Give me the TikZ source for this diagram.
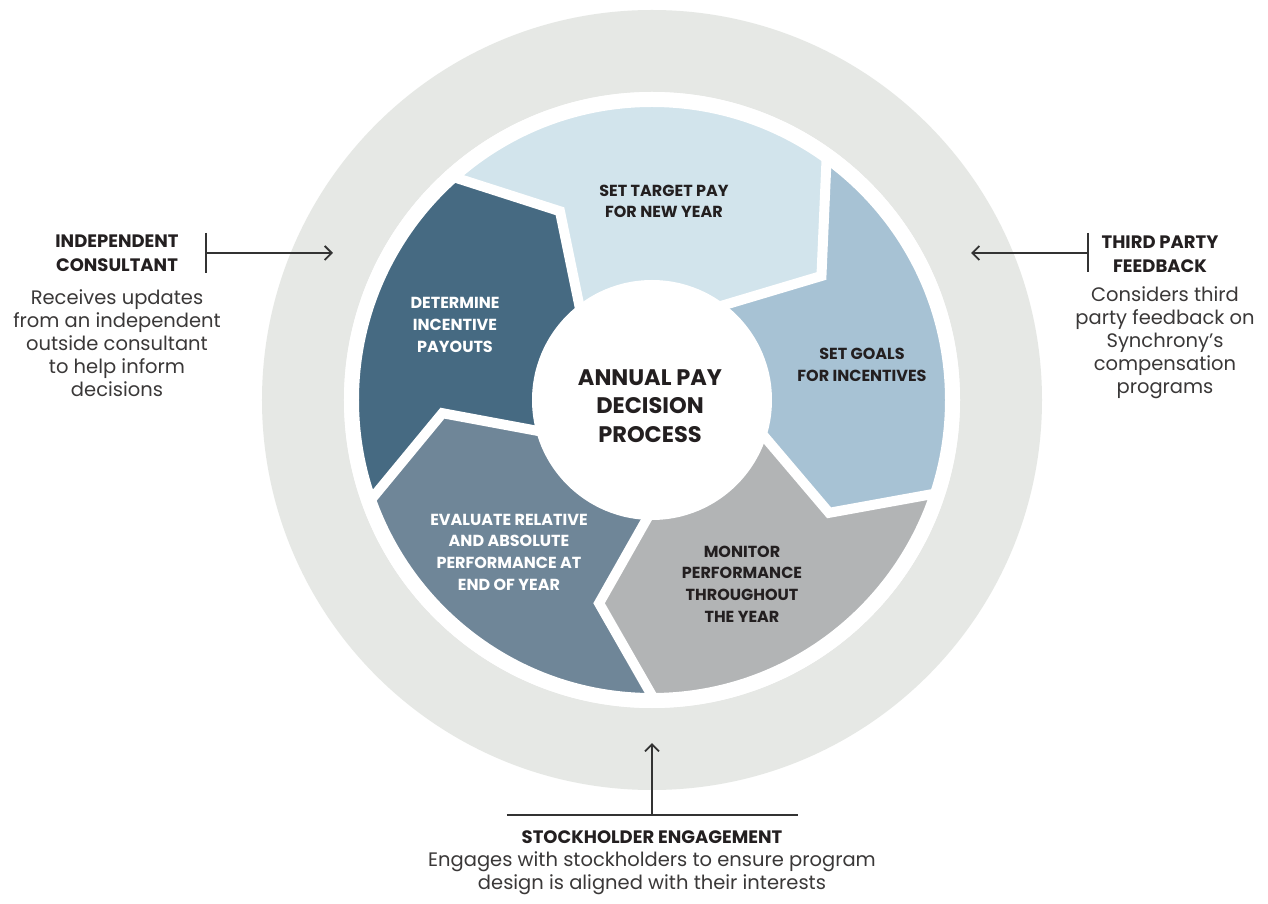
\documentclass[tikz,border=0pt]{standalone}
\usepackage{fontspec}
\setmainfont{Poppins}
\usetikzlibrary{arrows.meta}
\definecolor{ringgray}{HTML}{E6E8E5}
\definecolor{cTarget}{HTML}{D2E4EC}
\definecolor{cGoals}{HTML}{A7C2D4}
\definecolor{cMonitor}{HTML}{B2B4B5}
\definecolor{cEval}{HTML}{6F8698}
\definecolor{cDeterm}{HTML}{466A82}
\definecolor{inkdark}{HTML}{231F20}
\definecolor{inkbody}{HTML}{3A3838}
\definecolor{linegray}{HTML}{333333}
\tikzset{
  gapline/.style={draw=white, line width=10pt, line join=miter},
  seglabel/.style={align=center, font=\bfseries\fontsize{16}{21.7}\selectfont, inner sep=0pt},
  centerlabel/.style={align=center, font=\bfseries\fontsize{22.5}{28.5}\selectfont, text=inkdark, inner sep=0pt},
  headlabel/.style={align=center, font=\bfseries\fontsize{18}{23.5}\selectfont, text=inkdark, inner sep=0pt},
  bodylabel/.style={align=center, font=\fontsize{19.5}{23}\selectfont, text=inkbody, inner sep=0pt},
  conn/.style={draw=linegray, line width=1.8pt},
  tick/.style={draw=linegray, line width=1.8pt},
  arr/.style={-{Straight Barb[length=7pt,width=14pt]}}
}
\begin{document}
\begin{tikzpicture}[x=1pt,y=1pt]
\useasboundingbox[fill=white] (-652,-504) rectangle (616,400);
% outer ring
\fill[ringgray] (0,0) circle[radius=390];
\fill[white] (0,0) circle[radius=308];
% segments (R=298, tip radius 210, inner 112)
% SET TARGET: B2 -> B1
\fill[cTarget] (132.4:298) arc[start angle=132.4, end angle=55, radius=298] -- (36.2:210) -- (58.7:112)
  arc[start angle=58.7, end angle=131.4, radius=112] -- (116:210) -- cycle;
% SET GOALS: B1 -> B5
\fill[cGoals] (55:298) arc[start angle=55, end angle=-17.6, radius=298] -- (-32.5:210) -- (-13.5:112)
  arc[start angle=-13.5, end angle=58.7, radius=112] -- (36.2:210) -- cycle;
% MONITOR: B5 -> B4
\fill[cMonitor] (-17.6:298) arc[start angle=-17.6, end angle=-89, radius=298] -- (-104.6:210) -- (-88.5:112)
  arc[start angle=-88.5, end angle=-13.5, radius=112] -- (-32.5:210) -- cycle;
% EVALUATE: B4 -> B3
\fill[cEval] (271:298) arc[start angle=271, end angle=200.3, radius=298] -- (183.6:210) -- (198.7:112)
  arc[start angle=198.7, end angle=271.5, radius=112] -- (255.4:210) -- cycle;
% DETERMINE: B3 -> B2
\fill[cDeterm] (200.3:298) arc[start angle=200.3, end angle=132.4, radius=298] -- (116:210) -- (131.4:112)
  arc[start angle=131.4, end angle=198.7, radius=112] -- (183.6:210) -- cycle;
% white gaps
\draw[gapline] (55:305) -- (36.2:210) -- (58.7:105);
\draw[gapline] (132.4:305) -- (116:210) -- (131.4:105);
\draw[gapline] (200.3:305) -- (183.6:210) -- (198.7:105);
\draw[gapline] (271:305) -- (255.4:210) -- (271.5:105);
\draw[gapline] (-17.6:305) -- (-32.5:210) -- (-13.5:105);
% white ring and centre disk
\draw[white, line width=15pt] (0,0) circle[radius=300.5];
\fill[white] (0,0) circle[radius=120];
% labels
\node[seglabel, text=inkdark] (target) at (12,198.5) {SET TARGET PAY\\FOR NEW YEAR};
\node[seglabel, text=inkdark] (goals) at (210,35) {SET GOALS\\FOR INCENTIVES};
\node[seglabel, text=inkdark] (monitor) at (90,-184) {MONITOR\\PERFORMANCE\\THROUGHOUT\\THE YEAR};
\node[seglabel, text=white] (evaluate) at (-143,-152) {EVALUATE RELATIVE\\AND ABSOLUTE\\PERFORMANCE AT\\END OF YEAR};
\node[seglabel, text=white] (determine) at (-197,75) {DETERMINE\\INCENTIVE\\PAYOUTS};
\node[centerlabel] (center) at (-2,-6) {ANNUAL PAY\\DECISION\\PROCESS};
% left block
\node[headlabel] (indhead) at (-535,147) {INDEPENDENT\\CONSULTANT};
\node[bodylabel] (indbody) at (-535,57) {Receives updates\\from an independent\\outside consultant\\to help inform\\decisions};
% right block
\node[headlabel] (tphead) at (508,146) {THIRD PARTY\\FEEDBACK};
\node[bodylabel] (tpbody) at (513,57) {Considers third\\party feedback on\\Synchrony’s\\compensation\\programs};
% bottom block
\node[headlabel] (skhead) at (0,-437) {STOCKHOLDER ENGAGEMENT};
\node[bodylabel] (skbody) at (0,-473) {Engages with stockholders to ensure program\\design is aligned with their interests};
% connectors
\coordinate (lt1) at (-446,167); \coordinate (lt2) at (-446,127);
\coordinate (lfrom) at (-446,147); \coordinate (lto) at (-319,147);
\draw[tick] (lt1) -- (lt2);
\draw[conn, arr] (lfrom) -- (lto);
\coordinate (rt1) at (436,167); \coordinate (rt2) at (436,128);
\coordinate (rfrom) at (436,147); \coordinate (rto) at (319,147);
\draw[tick] (rt1) -- (rt2);
\draw[conn, arr] (rfrom) -- (rto);
\coordinate (bt1) at (-145,-415); \coordinate (bt2) at (146,-415);
\coordinate (bfrom) at (0,-415); \coordinate (bto) at (0,-343);
\draw[tick] (bt1) -- (bt2);
\draw[conn, arr] (bfrom) -- (bto);
\end{tikzpicture}
\end{document}
